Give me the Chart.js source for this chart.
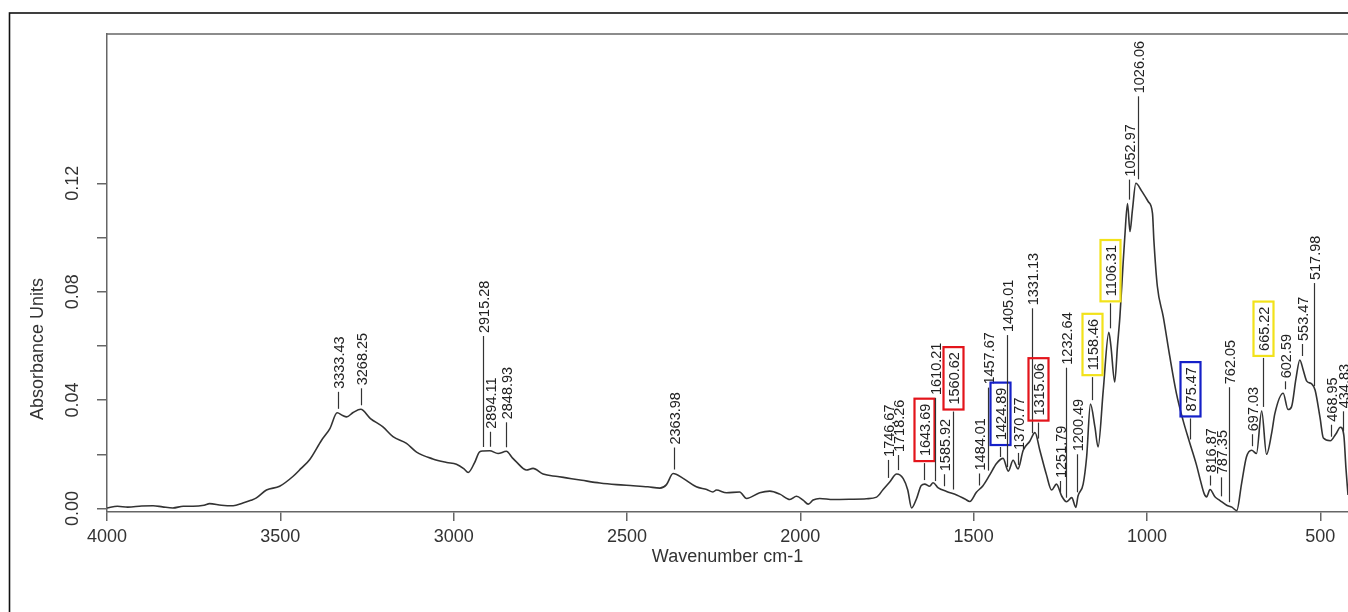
<!DOCTYPE html>
<html>
<head>
<meta charset="utf-8">
<script src="https://cdn.jsdelivr.net/npm/chart.js@4.4.1/dist/chart.umd.min.js"></script>
<style>
  html, body { margin: 0; padding: 0; background: #fff; }
  #wrap { width: 1348px; height: 612px; position: relative; }
</style>
</head>
<body>
<div id="wrap"><canvas id="ftir"></canvas></div>
<script>
// spectrum (cm-1, absorbance units)
const wavenumbers = [
  4000, 3970, 3940, 3900, 3867, 3840, 3810, 3780, 3752, 3720, 3704, 3670, 3636, 3608, 3585, 3569,
  3540, 3502, 3463, 3440, 3415, 3381, 3357, 3336, 3320, 3309, 3290, 3268, 3240, 3204, 3175, 3136,
  3107, 3060, 3020, 2992, 2970, 2958, 2940, 2925, 2915, 2896, 2872, 2848, 2830, 2819, 2790, 2771,
  2742, 2700, 2675, 2630, 2578, 2530, 2482, 2440, 2405, 2386, 2367, 2338, 2300, 2270, 2252, 2242,
  2213, 2175, 2155, 2117, 2088, 2059, 2030, 2011, 1992, 1977, 1963, 1944, 1905, 1857, 1809, 1780,
  1761, 1742, 1722, 1703, 1690, 1679, 1665, 1651, 1641, 1627, 1617, 1602, 1578, 1549, 1525, 1511,
  1492, 1473, 1453, 1434, 1415, 1400, 1386, 1372, 1357, 1338, 1323, 1309, 1290, 1275, 1261, 1246,
  1232, 1217, 1205, 1199, 1184, 1174, 1163, 1150, 1141, 1126, 1110, 1104, 1093, 1085, 1078, 1069,
  1064, 1056, 1049, 1042, 1032, 1016, 996, 984, 980, 970, 953, 934, 915, 896, 876, 857,
  845, 835, 828, 818, 804, 790, 770, 755, 741, 727, 713, 698, 684, 669, 655, 640,
  631, 607, 593, 583, 570, 559, 549, 539, 525, 515, 501, 491, 471, 455, 442, 432,
  426, 420
];
const absorbance = [
  0.0002, 0.0008, 0.0005, 0.0009, 0.0010, 0.0006, 0.0002, 0.0008, 0.0008, 0.0012, 0.0018, 0.0012, 0.0010, 0.0020, 0.0030, 0.0039,
  0.0068, 0.0082, 0.0119, 0.0148, 0.0181, 0.0252, 0.0295, 0.0353, 0.0343, 0.0338, 0.0354, 0.0366, 0.0332, 0.0301, 0.0265, 0.0240,
  0.0208, 0.0183, 0.0170, 0.0163, 0.0146, 0.0133, 0.0168, 0.0209, 0.0212, 0.0213, 0.0203, 0.0211, 0.0186, 0.0172, 0.0142, 0.0148,
  0.0127, 0.0118, 0.0113, 0.0104, 0.0094, 0.0088, 0.0084, 0.0080, 0.0075, 0.0088, 0.0129, 0.0111, 0.0080, 0.0070, 0.0061, 0.0068,
  0.0058, 0.0061, 0.0037, 0.0058, 0.0064, 0.0053, 0.0033, 0.0045, 0.0031, 0.0016, 0.0031, 0.0037, 0.0033, 0.0034, 0.0036, 0.0042,
  0.0070, 0.0098, 0.0127, 0.0110, 0.0068, 0.0002, 0.0035, 0.0085, 0.0090, 0.0082, 0.0095, 0.0076, 0.0063, 0.0050, 0.0035, 0.0026,
  0.0060, 0.0084, 0.0125, 0.0166, 0.0185, 0.0138, 0.0178, 0.0146, 0.0215, 0.0248, 0.0280, 0.0215, 0.0125, 0.0068, 0.0090, 0.0046,
  0.0025, 0.0040, 0.0004, 0.0045, 0.0090, 0.0190, 0.0385, 0.0300, 0.0227, 0.0437, 0.0650, 0.0600, 0.0467, 0.0600, 0.0708, 0.0900,
  0.1000, 0.1125, 0.1022, 0.1100, 0.1200, 0.1173, 0.1132, 0.1089, 0.0990, 0.0820, 0.0708, 0.0560, 0.0425, 0.0326, 0.0240, 0.0160,
  0.0100, 0.0055, 0.0043, 0.0070, 0.0043, 0.0030, 0.0012, 0.0005, -0.0008, 0.0092, 0.0190, 0.0215, 0.0203, 0.0360, 0.0200, 0.0280,
  0.0350, 0.0425, 0.0365, 0.0375, 0.0480, 0.0548, 0.0510, 0.0470, 0.0460, 0.0437, 0.0338, 0.0260, 0.0250, 0.0275, 0.0300, 0.0270,
  0.0150, 0.0050
];

// picked peaks
const peakLabels = [
  3333.43, 3268.25, 2915.28, 2894.11, 2848.93, 2363.98, 1746.67, 1718.26, 1643.69, 1610.21,
  1585.92, 1560.62, 1484.01, 1457.67, 1424.89, 1405.01, 1370.77, 1331.13, 1315.06, 1251.79,
  1232.64, 1200.49, 1158.46, 1106.31, 1052.97, 1026.06, 875.47, 816.87, 787.35, 762.05,
  697.03, 665.22, 602.59, 553.47, 517.98, 468.95, 434.83
];

const xTicks = [4000, 3500, 3000, 2500, 2000, 1500, 1000, 500];
const yTicks = [0, 0.02, 0.04, 0.06, 0.08, 0.10, 0.12];
const yLabelled = [0, 0.04, 0.08, 0.12];

// leader line length above each peak (px) and the coloured boxes
const leaderLen = [
  17, 17, 111, 15, 25, 22, 18, 15, 17, 83,
  12, 78, 12, 83, 10, 132, 12, 125, 16, 11,
  130, 38, 23, 25, 20, 83, 21, 10, 19, 115,
  12, 49, 8, 12, 103, 12, 20
];
const boxColours = {
  "1643.69": "#e3141b", "1560.62": "#e3141b", "1315.06": "#e3141b",
  "1424.89": "#1520c8", "875.47": "#1520c8",
  "1158.46": "#f2e21a", "1106.31": "#f2e21a", "665.22": "#f2e21a"
};

const FONT = '"Liberation Sans", Arial, sans-serif';
const AXIS_GREY = "#666";

// absorbance to hang a label on: highest point near the peak
function curveAt(w) {
  let best = null;
  wavenumbers.forEach((v, i) => {
    if (Math.abs(v - w) <= 6 && (best === null || absorbance[i] > best)) best = absorbance[i];
  });
  if (best !== null) return best;
  for (let i = 0; i < wavenumbers.length - 1; i++) {
    const a = wavenumbers[i], b = wavenumbers[i + 1];
    if (w <= a && w >= b) {
      const t = (a - w) / (a - b);
      return absorbance[i] + t * (absorbance[i + 1] - absorbance[i]);
    }
  }
  return 0;
}

const peakPlugin = {
  id: "peakMarks",
  beforeDraw(chart) {
    const ctx = chart.ctx;
    ctx.save();
    ctx.fillStyle = "#fff";
    ctx.fillRect(0, 0, chart.width, chart.height);
    // outer frame of the figure (right and bottom run off the picture)
    ctx.strokeStyle = "#111";
    ctx.lineWidth = 1.6;
    ctx.strokeRect(9.5, 13, chart.width + 30, chart.height + 30);
    ctx.restore();
  },
  afterDraw(chart) {
    const { ctx, chartArea: a, scales: { x, y } } = chart;
    ctx.save();

    // top of the plot box
    ctx.strokeStyle = AXIS_GREY;
    ctx.lineWidth = 1.5;
    ctx.beginPath();
    ctx.moveTo(a.left, a.top);
    ctx.lineTo(a.right, a.top);
    ctx.stroke();

    // peak labels
    ctx.font = "14.5px " + FONT;
    peakLabels.forEach((w, i) => {
      const text = w.toFixed(2);
      const px = Math.round(x.getPixelForValue(w)) + 0.5;
      const base = y.getPixelForValue(curveAt(w)) - 4;
      const top = base - leaderLen[i];
      ctx.strokeStyle = "#333";
      ctx.lineWidth = 1.2;
      ctx.beginPath();
      ctx.moveTo(px, base);
      ctx.lineTo(px, top);
      ctx.stroke();

      ctx.save();
      ctx.translate(px, top);
      ctx.rotate(-Math.PI / 2);
      ctx.textAlign = "left";
      ctx.textBaseline = "middle";
      ctx.fillStyle = "#222";
      const tw = ctx.measureText(text).width;
      const box = boxColours[text];
      if (box) {
        ctx.strokeStyle = box;
        ctx.lineWidth = 2.2;
        ctx.strokeRect(2, -10, tw + 10, 20);
        ctx.fillText(text, 7, 1);
      } else {
        ctx.fillText(text, 3, 1);
      }
      ctx.restore();
    });

    // axis titles
    ctx.fillStyle = "#333";
    ctx.font = "18px " + FONT;
    ctx.textAlign = "center";
    ctx.textBaseline = "middle";
    ctx.fillText("Wavenumber cm-1", (a.left + a.right) / 2, 557);
    ctx.translate(38, 349);
    ctx.rotate(-Math.PI / 2);
    ctx.fillText("Absorbance Units", 0, 0);
    ctx.restore();
  }
};

const points = wavenumbers.map((w, i) => ({ x: w, y: absorbance[i] }));

new Chart(document.getElementById("ftir"), {
  type: "line",
  data: {
    datasets: [{
      data: points,
      borderColor: "#333",
      borderWidth: 1.6,
      pointRadius: 0,
      cubicInterpolationMode: "monotone",
      fill: false
    }]
  },
  options: {
    responsive: true,
    maintainAspectRatio: false,
    animation: false,
    layout: { padding: { top: 34, left: 0, right: 0, bottom: 0 } },
    plugins: { legend: { display: false }, tooltip: { enabled: false } },
    scales: {
      x: {
        type: "linear",
        reverse: true,
        min: 420,
        max: 4000,
        afterBuildTicks: (s) => { s.ticks = xTicks.map((v) => ({ value: v })); },
        afterFit: (s) => { s.height = 100; },
        grid: { drawOnChartArea: false, drawTicks: true, tickLength: 9, color: AXIS_GREY, lineWidth: 1.5 },
        border: { color: AXIS_GREY, width: 1.5 },
        ticks: {
          font: { family: FONT, size: 18 },
          color: "#333",
          padding: 5,
          maxRotation: 0,
          autoSkip: false,
          callback: (v) => String(v)
        }
      },
      y: {
        min: -0.0013,
        max: 0.1751,
        afterBuildTicks: (s) => { s.ticks = yTicks.map((v) => ({ value: v })); },
        afterFit: (s) => { s.width = 107; },
        grid: { drawOnChartArea: false, drawTicks: true, tickLength: 10, color: AXIS_GREY, lineWidth: 1.5 },
        border: { color: AXIS_GREY, width: 1.5 },
        ticks: {
          font: { family: FONT, size: 18 },
          color: "#333",
          padding: 6,
          minRotation: 90,
          maxRotation: 90,
          crossAlign: "center",
          autoSkip: false,
          callback: (v) => yLabelled.some((l) => Math.abs(l - v) < 1e-9) ? v.toFixed(2) : ""
        }
      }
    }
  },
  plugins: [peakPlugin]
});
</script>
</body>
</html>
